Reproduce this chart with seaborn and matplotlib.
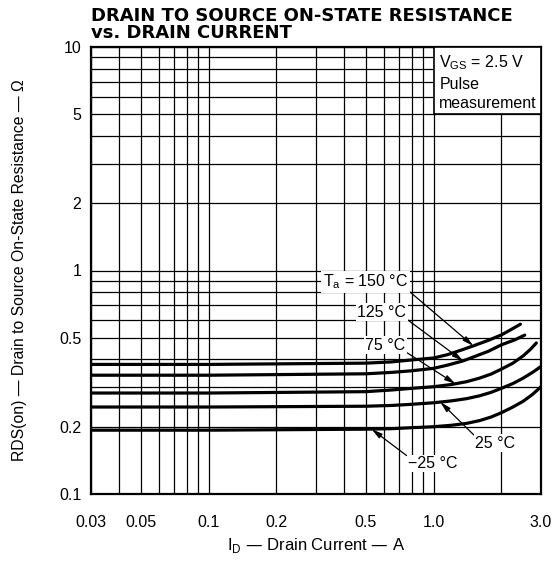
import numpy as np
import pandas as pd
import matplotlib
matplotlib.use("Agg")
import matplotlib.pyplot as plt
from matplotlib.ticker import FixedLocator, FixedFormatter, NullFormatter
from matplotlib.patches import Rectangle
import seaborn as sns

# ---- data ----
temps = ["150", "125", "75", "25", "-25"]
id_150 = [0.03, 0.1, 0.5, 0.65, 0.8, 1.0, 1.15, 1.35, 1.5, 1.75, 2.0, 2.2, 2.43]
rds_150 = [0.38, 0.38, 0.385, 0.39, 0.398, 0.406, 0.42, 0.443, 0.46, 0.487, 0.515, 0.543, 0.575]
id_125 = [0.03, 0.1, 0.5, 0.65, 0.8, 1.0, 1.15, 1.35, 1.5, 1.75, 2.0, 2.3, 2.54]
rds_125 = [0.34, 0.34, 0.345, 0.35, 0.356, 0.365, 0.377, 0.394, 0.41, 0.435, 0.465, 0.49, 0.514]
id_75 = [0.03, 0.1, 0.5, 0.65, 0.8, 1.0, 1.2, 1.4, 1.6, 1.8, 2.0, 2.25, 2.5, 2.7, 2.86]
rds_75 = [0.283, 0.283, 0.287, 0.292, 0.297, 0.302, 0.309, 0.318, 0.33, 0.344, 0.362, 0.385, 0.415, 0.445, 0.474]
id_25 = [0.03, 0.1, 0.5, 0.65, 0.8, 1.0, 1.2, 1.4, 1.6, 1.8, 2.0, 2.25, 2.5, 2.75, 3.0]
rds_25 = [0.245, 0.245, 0.247, 0.249, 0.252, 0.256, 0.261, 0.267, 0.275, 0.285, 0.297, 0.312, 0.33, 0.35, 0.372]
id_m25 = [0.03, 0.1, 0.5, 0.65, 0.8, 1.0, 1.2, 1.4, 1.6, 1.8, 2.0, 2.25, 2.5, 2.75, 3.0]
rds_m25 = [0.193, 0.193, 0.195, 0.196, 0.198, 0.20, 0.203, 0.207, 0.213, 0.221, 0.231, 0.245, 0.26, 0.279, 0.302]

x_major = [0.03, 0.05, 0.1, 0.2, 0.5, 1.0, 3.0]
x_major_labels = ["0.03", "0.05", "0.1", "0.2", "0.5", "1.0", "3.0"]
x_minor = [0.04, 0.06, 0.07, 0.08, 0.09, 0.3, 0.4, 0.6, 0.7, 0.8, 0.9, 2.0]
y_major = [0.1, 0.2, 0.5, 1, 2, 5, 10]
y_major_labels = ["0.1", "0.2", "0.5", "1", "2", "5", "10"]
y_minor = [0.3, 0.4, 0.6, 0.7, 0.8, 0.9, 3, 4, 6, 7, 8, 9]

frames = []
for t, xs, ys in zip(temps,
                     [id_150, id_125, id_75, id_25, id_m25],
                     [rds_150, rds_125, rds_75, rds_25, rds_m25]):
    frames.append(pd.DataFrame({"ID": xs, "RDS": ys, "Ta": t}))
df = pd.concat(frames, ignore_index=True)

sns.set_style("white")
plt.rcParams['font.family'] = ['Liberation Sans', 'DejaVu Sans']
plt.rcParams['text.color'] = 'black'
plt.rcParams['axes.labelcolor'] = 'black'
plt.rcParams['xtick.color'] = 'black'
plt.rcParams['ytick.color'] = 'black'

fig = plt.figure(figsize=(5.6, 5.75), dpi=100)
ax = fig.add_axes([91/560, 1 - 494/575, 450/560, 447/575])

sns.lineplot(data=df, x="ID", y="RDS", hue="Ta", units="Ta", estimator=None,
             palette=["black"] * 5, linewidth=2.3, legend=False, ax=ax,
             sort=True, zorder=3)
for ln in ax.lines:
    ln.set_solid_capstyle("round")

ax.set_xscale("log")
ax.set_yscale("log")
ax.set_xlim(0.03, 3.0)
ax.set_ylim(0.1, 10)

ax.xaxis.set_major_locator(FixedLocator(x_major))
ax.xaxis.set_major_formatter(FixedFormatter(x_major_labels))
ax.xaxis.set_minor_locator(FixedLocator(x_minor))
ax.xaxis.set_minor_formatter(NullFormatter())
ax.yaxis.set_major_locator(FixedLocator(y_major))
ax.yaxis.set_major_formatter(FixedFormatter(y_major_labels))
ax.yaxis.set_minor_locator(FixedLocator(y_minor))
ax.yaxis.set_minor_formatter(NullFormatter())

ax.grid(True, which="both", color="black", linewidth=0.9)
ax.tick_params(axis="both", which="both", length=0, labelsize=11.5,
               colors="black", labelcolor="black")
ax.tick_params(axis="x", pad=15)
ax.tick_params(axis="y", pad=7)
for s in ax.spines.values():
    s.set_color("black")
    s.set_linewidth(1.6)

ax.set_xlabel(r"I$_\mathregular{D}$ — Drain Current — A", fontsize=12, color="black")
ax.xaxis.set_label_coords(0.5, -0.093)
ax.set_ylabel("RDS(on) — Drain to Source On-State Resistance — Ω", fontsize=11.3,
              color="black")
ax.yaxis.set_label_coords(-0.142, 0.5)

fig.text(91/560, 1 - 7/575,
         "DRAIN TO SOURCE ON-STATE RESISTANCE\nvs. DRAIN CURRENT",
         fontsize=13, fontweight="bold", family="DejaVu Sans", color="black",
         ha="left", va="top", linespacing=0.95)

# condition box
ax.add_patch(Rectangle((1.0, 5.0), 2.0, 5.0, facecolor="white", edgecolor="black",
                       linewidth=1.2, zorder=4))
ax.text(1.06, 9.4, r"V$_\mathregular{GS}$ = 2.5 V" + "\nPulse\nmeasurement",
        fontsize=11.5, ha="left", va="top", zorder=5, linespacing=1.4, color="black")

bb = dict(facecolor="white", edgecolor="none", pad=1.0)
arrow = dict(arrowstyle="-|>,head_length=0.55,head_width=0.14", color="black",
             linewidth=0.9, shrinkA=0, shrinkB=0)
ax.annotate(r"T$_\mathregular{a}$ = 150 °C", xy=(1.5, 0.46), xytext=(0.77, 0.889),
            fontsize=11.5, ha="right", va="center", bbox=bb, zorder=6, color="black",
            arrowprops=dict(arrow, relpos=(1.0, 0.05)))
ax.annotate("125 °C", xy=(1.35, 0.394), xytext=(0.755, 0.652),
            fontsize=11.5, ha="right", va="center", bbox=bb, zorder=6, color="black",
            arrowprops=dict(arrow, relpos=(1.0, 0.05)))
ax.annotate("75 °C", xy=(1.25, 0.311), xytext=(0.75, 0.464),
            fontsize=11.5, ha="right", va="center", bbox=bb, zorder=6, color="black",
            arrowprops=dict(arrow, relpos=(1.0, 0.05)))
ax.annotate("25 °C", xy=(1.07, 0.258), xytext=(1.53, 0.169),
            fontsize=11.5, ha="left", va="center", bbox=bb, zorder=6, color="black",
            arrowprops=dict(arrow, relpos=(0.0, 0.95)))
ax.annotate("−25 °C", xy=(0.53, 0.195), xytext=(0.77, 0.137),
            fontsize=11.5, ha="left", va="center", bbox=bb, zorder=6, color="black",
            arrowprops=dict(arrow, relpos=(0.0, 0.95)))

fig.savefig("out.png", dpi=100)
